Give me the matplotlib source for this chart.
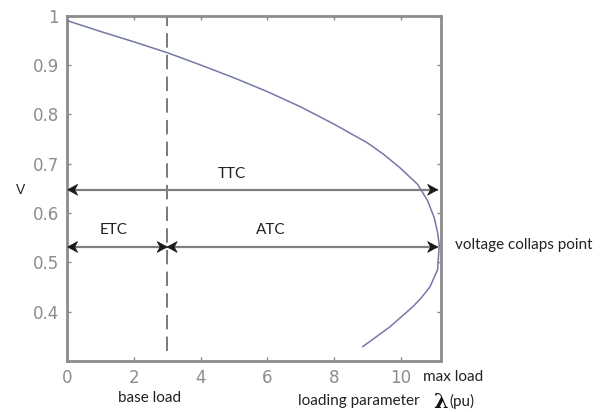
import matplotlib.pyplot as plt
from matplotlib.patches import Polygon

# PV curve (loading parameter lambda vs voltage)
lam = [0.0, 1.0, 2.0, 3.0, 4.0, 5.0, 6.0, 7.0, 8.0, 9.0, 9.5, 10.0, 10.5,
       10.8, 11.0, 11.1, 11.15, 11.1, 10.87, 10.6, 10.36, 9.67, 8.86]
volt = [0.99, 0.968, 0.947, 0.925, 0.90, 0.874, 0.846, 0.815, 0.78, 0.742,
        0.718, 0.69, 0.658, 0.625, 0.59, 0.56, 0.534, 0.485, 0.45, 0.427,
        0.41, 0.369, 0.329]

base_load = 3.0
max_load = 11.15
ttc_v = 0.647
etc_v = 0.531

xticks = [0, 2, 4, 6, 8, 10]
yticks = [0.4, 0.5, 0.6, 0.7, 0.8, 0.9, 1.0]
ytick_labels = ["0.4", "0.5", "0.6", "0.7", "0.8", "0.9", "1"]

fig = plt.figure(figsize=(6.12, 4.12), dpi=100)
ax = fig.add_axes([0.1095, 0.124, 0.611, 0.838])

ax.plot(lam, volt, color="#7478a8", linewidth=1.1, zorder=3)
ax.plot([base_load, base_load], [0.32, 1.0], color="#707070",
        linewidth=1.3, linestyle=(0, (8, 4)), zorder=2)

grey = "#7f7f7f"


def head(tip, y, direction):
    # notched arrow head in data units (MATLAB "vback" look)
    length = 0.3 * direction
    half = 0.011
    pts = [(tip, y), (tip - length, y + half), (tip - 0.7 * length, y),
           (tip - length, y - half)]
    ax.add_patch(Polygon(pts, closed=True, facecolor="#1a1a1a",
                         edgecolor="#1a1a1a", linewidth=0.5, zorder=4))


def double_arrow(x0, x1, y):
    ax.plot([x0, x1], [y, y], color=grey, linewidth=1.6, zorder=2,
            solid_capstyle="butt")
    head(x0, y, -1)
    head(x1, y, 1)


double_arrow(0.02, max_load - 0.05, ttc_v)
double_arrow(0.02, base_load, etc_v)
double_arrow(base_load, max_load - 0.05, etc_v)

ax.set_xlim(0, 11.2)
ax.set_ylim(0.3, 1.0)
ax.set_xticks(xticks)
ax.set_yticks(yticks)
ax.set_yticklabels(ytick_labels)
ax.tick_params(direction="in", length=3, width=1, colors="#8a8a8a",
               labelsize=12, top=True, right=True, pad=6)
for label in ax.get_xticklabels() + ax.get_yticklabels():
    label.set_color("#8c8c8c")
for side in ax.spines.values():
    side.set_color("#8c8c8c")
    side.set_linewidth(2)

txt = dict(family="Lato", fontsize=11, color="#222222")
ax.text(4.95, 0.665, "TTC", ha="center", va="bottom", **txt)
ax.text(1.4, 0.552, "ETC", ha="center", va="bottom", **txt)
ax.text(6.1, 0.552, "ATC", ha="center", va="bottom", **txt)
fig.text(455 / 612, 1 - 245 / 412, "voltage collaps point", ha="left",
         va="center", **txt)
fig.text(423 / 612, 1 - 377 / 412, "max load", ha="left", va="center", **txt)
fig.text(150 / 612, 1 - 398 / 412, "base load", ha="center", va="center",
         **txt)
fig.text(298 / 612, 1 - 401 / 412, "loading parameter", ha="left",
         va="center", **txt)
fig.text(433 / 612, 1 - 402 / 412, "λ", ha="left", va="center",
         family="DejaVu Serif", fontsize=15, fontweight="bold",
         color="#111111")
fig.text(449 / 612, 1 - 401 / 412, "(pu)", ha="left", va="center", **txt)
fig.text(21 / 612, 1 - 190 / 412, "V", ha="center", va="center",
         family="Liberation Sans", fontsize=10, color="#222222")

fig.savefig("out.png", dpi=100)
